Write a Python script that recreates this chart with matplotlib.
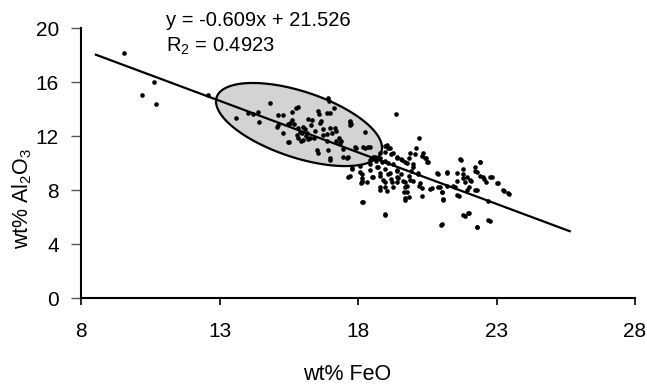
import numpy as np
import matplotlib
matplotlib.use("Agg")
import matplotlib.pyplot as plt

plt.rcParams['font.family'] = ['Liberation Sans', 'DejaVu Sans']
plt.rcParams['mathtext.fontset'] = 'custom'
plt.rcParams['mathtext.rm'] = 'Liberation Sans'

# ---- data ----
feo = [9.55, 10.21, 10.63, 10.72, 12.58, 13.61,
       14.03, 14.21, 14.42, 14.81, 15.1, 15.31, 15.1, 15.31, 15.52, 15.61, 15.76, 15.85,
       15.61, 15.7, 15.82, 15.97, 16.12, 15.82, 15.94, 16.18, 16.3, 16.45, 16.09, 16.19,
       16.42, 16.57, 16.6, 16.66, 16.72, 16.87, 16.96, 16.99, 17.0, 17.13, 17.19, 17.31,
       17.4, 17.46, 17.61, 17.7, 17.73, 17.91, 18.27, 18.24, 18.42, 16.57, 17.0, 17.19,
       16.87, 15.46,
       15.55, 16.03, 15.9, 15.79, 16.15, 16.03, 15.48, 16.33, 16.27, 16.63, 16.75, 16.93,
       16.87, 17.17, 17.05, 17.35, 16.51, 16.93, 16.99, 17.47, 17.65, 17.71, 17.71, 17.89,
       18.19, 18.37, 18.55, 15.06, 14.4,
       19.37, 18.99, 19.1, 19.18, 18.96, 18.81, 18.66, 18.51, 18.45, 18.73, 18.96, 19.25,
       19.4, 19.55, 19.7, 19.85, 20.0, 20.22, 20.3, 20.45, 20.52, 20.07, 19.91, 19.4,
       19.1, 18.81, 18.96, 18.81, 19.03, 19.25, 19.4, 19.63, 19.78, 19.67, 19.7, 19.85,
       20.0, 20.15, 20.22, 20.3, 20.6, 19.4, 19.18, 19.55, 19.85, 18.51, 18.15, 18.12,
       17.7, 17.78, 18.15, 18.19, 18.06, 18.99,
       20.9, 21.2, 20.9, 21.04, 21.07, 21.01, 21.2, 21.42, 21.57, 21.72, 21.64, 21.79,
       21.87, 21.94, 22.01, 22.09, 22.24, 22.24, 22.42, 22.39, 22.54, 22.61, 22.84, 23.06,
       23.28, 23.46, 22.69, 21.87, 22.01, 22.3, 22.76, 22.24, 21.79, 21.49,
       19.88, 20.09, 20.36, 20.42, 20.48, 19.04, 19.16, 18.97, 19.27, 18.79, 18.61, 19.4,
       19.58, 19.76, 19.09, 18.86, 18.68, 18.43, 20.0, 20.18, 19.4, 19.16, 18.79, 18.55,
       18.13, 18.13, 17.65, 17.77, 18.91, 19.22, 19.45, 19.7, 19.88, 19.7, 19.76, 19.7,
       18.97, 18.79, 20.24, 20.3, 20.66, 20.96, 21.02, 21.08, 20.84, 21.2, 21.56, 21.68,
       22.4, 21.8, 22.04, 22.28, 22.52, 22.77, 23.0, 23.24, 23.43, 22.28, 21.92, 21.56,
       21.8, 21.98, 22.28, 22.7, 21.02, 18.97, 18.13, 18.07, 18.43, 18.31]
al2o3 = [18.15, 15.03, 15.97, 14.34, 15.03, 13.36,
         13.7, 13.65, 13.06, 14.47, 13.55, 13.55, 12.8, 12.25, 11.59, 13.8, 14.05, 14.14,
         13.19, 12.87, 12.62, 12.25, 12.0, 11.88, 11.64, 13.24, 12.82, 12.37, 12.5, 11.76,
         11.88, 13.85, 13.6, 13.11, 12.5, 11.64, 14.59, 13.7, 12.62, 14.1, 12.37, 11.88,
         11.64, 11.02, 10.4, 13.11, 12.87, 11.14, 12.32, 11.14, 11.19, 10.77, 10.21, 11.64,
         12.12, 12.92,
         12.94, 12.69, 12.32, 12.07, 12.2, 11.7, 11.58, 13.19, 11.83, 12.94, 12.07, 14.79,
         13.68, 12.57, 12.2, 11.46, 10.96, 10.96, 10.35, 10.47, 10.47, 13.06, 12.81, 11.21,
         11.21, 11.21, 10.47, 12.69, 13.8,
         13.6, 11.27, 11.14, 10.65, 10.16, 10.4, 10.16, 10.4, 9.91, 9.67, 9.54, 9.91,
         10.4, 10.28, 10.04, 10.4, 9.91, 11.83, 10.53, 10.4, 10.04, 10.65, 9.42, 9.42,
         9.18, 9.05, 8.56, 8.19, 7.95, 8.19, 8.56, 8.68, 8.31, 7.82, 7.26, 7.45,
         8.68, 9.18, 8.31, 7.57, 8.07, 8.93, 8.81, 9.18, 9.05, 8.93, 8.68, 8.49,
         9.05, 9.54, 9.18, 7.08, 9.79, 6.15,
         9.18, 9.23, 8.19, 7.82, 7.26, 5.44, 8.31, 8.31, 8.68, 10.21, 7.57, 9.18,
         8.56, 8.98, 8.19, 8.68, 8.0, 9.67, 10.04, 9.05, 8.81, 8.56, 8.93, 8.49,
         7.9, 7.7, 7.21, 6.1, 6.27, 5.24, 5.73, 9.42, 9.54, 8.25,
         10.72, 11.09, 10.72, 10.35, 10.1, 11.33, 11.09, 10.84, 10.72, 10.72, 10.47, 10.47,
         10.22, 9.98, 9.98, 10.1, 9.73, 10.22, 9.73, 9.24, 9.48, 9.24, 9.24, 8.99,
         8.87, 8.62, 8.99, 9.61, 8.74, 8.62, 8.87, 8.62, 8.74, 8.25, 7.87, 7.38,
         8.25, 8.0, 8.5, 8.12, 8.12, 8.25, 7.87, 7.31, 9.24, 9.36, 9.24, 10.27,
         10.1, 8.87, 8.74, 9.36, 8.99, 8.99, 8.5, 8.0, 7.76, 8.0, 8.0, 7.63,
         6.15, 6.27, 5.28, 5.78, 5.48, 6.2, 7.13, 9.36, 9.48, 8.62]

trend_x = [8.5, 25.68]
trend_y = [18.05, 4.92]

ellipse_center = (15.87, 12.85)
ellipse_major = (2.98, -1.44)   # half major axis vector (data units)
ellipse_minor = (-0.31, 2.72)   # half minor axis vector (data units)

x_ticks = [8, 13, 18, 23, 28]
y_ticks = [0, 4, 8, 12, 16, 20]

eq_text = "y = -0.609x + 21.526"
r2_text = r"R$_\mathregular{2}$ = 0.4923"

# ---- figure ----
fig = plt.figure(figsize=(6.47, 3.90), dpi=100)
ax = fig.add_axes([81/647, 1-298/390, (635-81)/647, (298-28)/390])

t = np.linspace(0, 2*np.pi, 300)
ex = ellipse_center[0] + ellipse_major[0]*np.cos(t) + ellipse_minor[0]*np.sin(t)
ey = ellipse_center[1] + ellipse_major[1]*np.cos(t) + ellipse_minor[1]*np.sin(t)
ax.fill(ex, ey, facecolor='#d3d3d3', edgecolor='black', linewidth=1.6, zorder=1)

ax.plot(trend_x, trend_y, color='black', linewidth=1.6, zorder=2, solid_capstyle='butt')
ax.scatter(feo, al2o3, s=11, color='black', linewidths=0, zorder=3)

ax.set_xlim(8, 28)
ax.set_ylim(0, 20)
ax.set_xticks(x_ticks)
ax.set_yticks(y_ticks)
ax.spines['top'].set_visible(False)
ax.spines['right'].set_visible(False)
ax.spines['left'].set_linewidth(1.5)
ax.spines['bottom'].set_linewidth(1.5)
ax.tick_params(axis='x', direction='out', length=5, width=1.2, pad=12, labelsize=15)
ax.tick_params(axis='y', direction='out', length=7, width=1.0, pad=9, labelsize=15,
               color='#555555')

fig.text(347/647, 1-375/390, "wt% FeO", ha='center', va='center', fontsize=15.5)
fig.text(22/647, 1-198/390, r"wt% Al$_\mathregular{2}$O$_\mathregular{3}$",
         ha='center', va='center', rotation=90, fontsize=15.5)
fig.text(166/647, 1-20/390, eq_text, ha='left', va='center', fontsize=14.5)
fig.text(166/647, 1-46/390, r2_text, ha='left', va='center', fontsize=14.5)

fig.savefig("out.png", dpi=100)
